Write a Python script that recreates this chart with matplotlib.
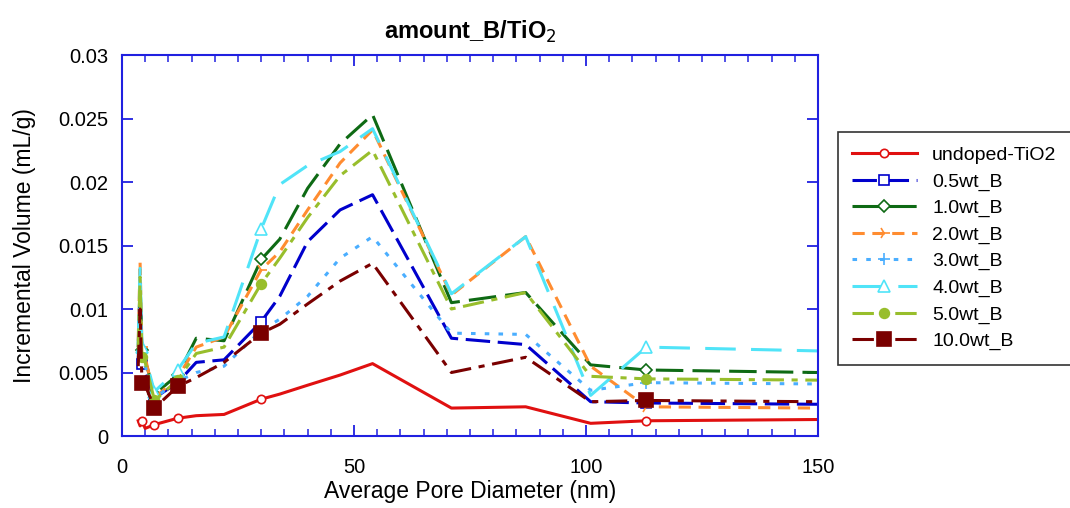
import matplotlib
matplotlib.use("Agg")
import matplotlib.pyplot as plt
from matplotlib.ticker import MultipleLocator, FixedLocator

plt.rcParams['font.family'] = ['Liberation Sans', 'DejaVu Sans']

# pore diameter grid (nm)
diameter = [3.5, 3.9, 4.3, 5.0, 7.0, 12, 16, 22, 30, 34, 40, 47, 54, 71, 87, 101, 113, 150]

undoped = [0.0012, 0.0008, 0.0012, 0.0006, 0.0009, 0.0014, 0.0016, 0.0017, 0.0029, 0.0033,
           0.0040, 0.0048, 0.0057, 0.0022, 0.0023, 0.0010, 0.0012, 0.0013]
b05 = [0.0060, 0.0117, 0.0057, 0.0050, 0.0030, 0.0042, 0.0058, 0.0060, 0.0090, 0.0110,
       0.0153, 0.0178, 0.0190, 0.0077, 0.0072, 0.0027, 0.0026, 0.0025]
b10 = [0.0070, 0.0120, 0.0068, 0.0060, 0.0033, 0.0048, 0.0077, 0.0075, 0.0139, 0.0155,
       0.0195, 0.0230, 0.0253, 0.0105, 0.0113, 0.0056, 0.0052, 0.0050]
b20 = [0.0075, 0.0137, 0.0070, 0.0062, 0.0030, 0.0046, 0.0070, 0.0078, 0.0131, 0.0145,
       0.0178, 0.0215, 0.0241, 0.0111, 0.0157, 0.0055, 0.0023, 0.0022]
b30 = [0.0065, 0.0125, 0.0065, 0.0055, 0.0030, 0.0043, 0.0050, 0.0055, 0.0083, 0.0092,
       0.0110, 0.0140, 0.0157, 0.0081, 0.0080, 0.0036, 0.0042, 0.0041]
b40 = [0.0072, 0.0132, 0.0070, 0.0062, 0.0035, 0.0052, 0.0073, 0.0078, 0.0163, 0.0198,
       0.0213, 0.0224, 0.0242, 0.0112, 0.0157, 0.0032, 0.0070, 0.0067]
b50 = [0.0068, 0.0125, 0.0062, 0.0058, 0.0028, 0.0044, 0.0065, 0.0070, 0.0120, 0.0140,
       0.0172, 0.0205, 0.0225, 0.0100, 0.0113, 0.0047, 0.0045, 0.0044]
b100 = [0.0055, 0.0100, 0.0042, 0.0040, 0.0022, 0.0039, 0.0046, 0.0058, 0.0081, 0.0088,
        0.0104, 0.0122, 0.0136, 0.0050, 0.0062, 0.0027, 0.0028, 0.0027]

labels = ['undoped-TiO2', '0.5wt_B', '1.0wt_B', '2.0wt_B', '3.0wt_B', '4.0wt_B', '5.0wt_B', '10.0wt_B']

marks = [2, 4, 5, 8, 16]

styles = [
    (undoped, '#e01010', (None, None), 'o', 6, 'none'),
    (b05, '#0000cc', (8, 2.5), 's', 7, 'none'),
    (b10, '#0e6a14', (9, 3), 'D', 6, 'none'),
    (b20, '#ff8c30', (4, 2.5), '4', 9, None),
    (b30, '#4aaeff', (1.5, 3), '+', 8, None),
    (b40, '#50e4f8', (10, 5), '^', 8, 'none'),
    (b50, '#98be2c', (7, 2.5, 2, 2.5), 'o', 7, None),
    (b100, '#7a0000', (7, 2.5, 2, 2.5), 's', 10, None),
]

fig = plt.figure(figsize=(10.7, 5.08), dpi=100)
ax = fig.add_axes([0.114, 0.1417, 0.6505, 0.75])

for (vals, color, dash, mk, ms, face), lab in zip(styles, labels):
    kw = dict(color=color, lw=2.2, marker=mk, markersize=ms, markevery=marks,
              markeredgewidth=1.2, label=lab)
    if face == 'none':
        kw['markerfacecolor'] = 'white'
    line, = ax.plot(diameter, vals, **kw)
    if dash[0] is not None:
        line.set_dashes(dash)

ax.set_xlim(0, 150)
ax.set_ylim(0, 0.03)
ax.xaxis.set_major_locator(FixedLocator([0, 50, 100, 150]))
ax.xaxis.set_minor_locator(MultipleLocator(5))
ax.set_yticks([0, 0.005, 0.01, 0.015, 0.02, 0.025, 0.03])
ax.set_yticklabels(['0', '0.005', '0.01', '0.015', '0.02', '0.025', '0.03'])

for s in ax.spines.values():
    s.set_color('#2020e0')
    s.set_linewidth(1.5)
ax.tick_params(which='both', direction='in', color='#2020e0', top=True, right=True,
               labelsize=14.5)
ax.tick_params(axis='x', which='both', pad=16)
ax.tick_params(axis='y', which='both', pad=10)
ax.tick_params(which='major', length=8, width=1.3)
ax.tick_params(which='minor', length=5, width=1.1)

ax.set_xlabel('Average Pore Diameter (nm)', fontsize=16.5, labelpad=2)
ax.set_ylabel('Incremental Volume (mL/g)', fontsize=16.5, labelpad=16)
ax.set_title('amount_B/TiO$_2$', fontsize=17, fontweight='bold', pad=12)

leg = fig.legend(loc='upper left', bbox_to_anchor=(0.783, 0.74), fontsize=14,
                 frameon=True, fancybox=False, edgecolor='black', handlelength=3.3,
                 labelspacing=0.45, borderpad=0.75, borderaxespad=0, handletextpad=0.8)
leg.get_frame().set_linewidth(1.2)

fig.savefig('out.png', dpi=100)
